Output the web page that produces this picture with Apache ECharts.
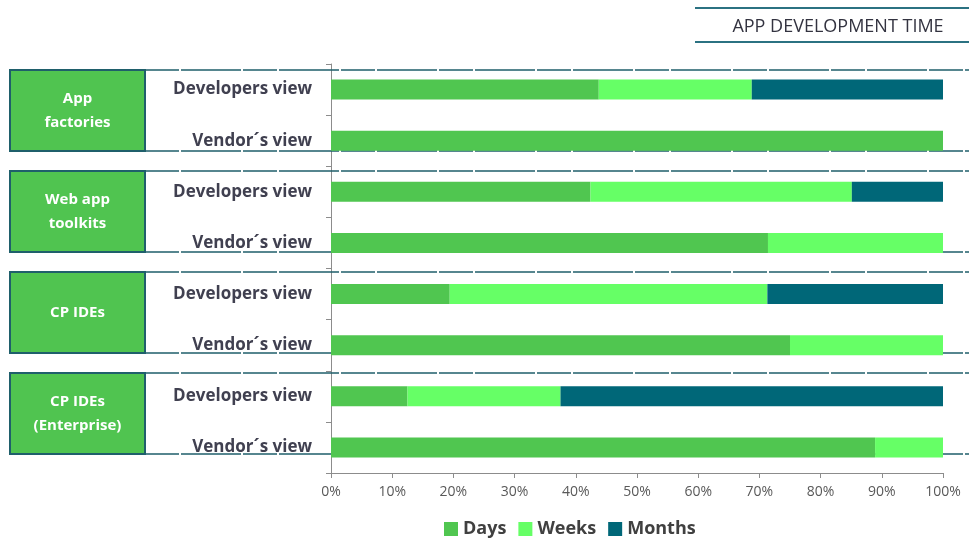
<!DOCTYPE html>
<html>
<head>
<meta charset="utf-8">
<script src="https://cdn.jsdelivr.net/npm/echarts@6/dist/echarts.min.js"></script>
<style>
  html, body { margin: 0; padding: 0; background: #ffffff; }
  #chart { width: 969px; height: 540px; }
</style>
</head>
<body>
<div id="chart"></div>
<script>
// Rows, top to bottom: two views per tool family
const categories = [
  'Developers view', 'Vendor\u00b4s view',
  'Developers view', 'Vendor\u00b4s view',
  'Developers view', 'Vendor\u00b4s view',
  'Developers view', 'Vendor\u00b4s view'
];
const groups = ['App\nfactories', 'Web app\ntoolkits', 'CP IDEs', 'CP IDEs\n(Enterprise)'];

// Share of answers (%) per development time bucket
const days   = [43.75, 100, 42.4, 71.4, 19.4, 75, 12.5, 88.9];
const weeks  = [25,    0,   42.7, 28.6, 51.9, 25, 25,   11.1];
const months = [31.25, 0,   14.9, 0,    28.7, 0,  62.5, 0];

const seriesNames = ['Days', 'Weeks', 'Months'];
const seriesColors = ['#50c650', '#66ff66', '#006778'];
const tickLabels = ['0%', '10%', '20%', '30%', '40%', '50%', '60%', '70%', '80%', '90%', '100%'];

const FONT = '"Open Sans", Lato, sans-serif';
const TEAL = '#1f5f6b';

const chart = echarts.init(document.getElementById('chart'));

// Group panels: green name box on the left, white label strip bounded by dashed rules
const groupTop = [70, 171, 272, 373];
const groupH = 81;
const graphics = [];
groupTop.forEach((y, i) => {
  graphics.push({
    type: 'line', silent: true, z: 1,
    shape: { x1: 145, y1: y, x2: 969, y2: y },
    style: { stroke: TEAL, lineWidth: 1.5, lineDash: [34, 2, 60, 2] }
  });
  graphics.push({
    type: 'line', silent: true, z: 1,
    shape: { x1: 145, y1: y + groupH, x2: 969, y2: y + groupH },
    style: { stroke: TEAL, lineWidth: 1.5, lineDash: [34, 2, 60, 2] }
  });
  graphics.push({
    type: 'rect', silent: true, z: 2,
    shape: { x: 10, y: y, width: 135, height: groupH },
    style: { fill: '#50c450', stroke: TEAL, lineWidth: 2 }
  });
  graphics.push({
    type: 'text', silent: true, z: 3,
    x: 77.5, y: y + groupH / 2,
    style: {
      text: groups[i], fill: '#ffffff', font: 'bold 15px ' + FONT,
      align: 'center', verticalAlign: 'middle', lineHeight: 24
    }
  });
});

// Title block with rules above and below
graphics.push({
  type: 'line', silent: true,
  shape: { x1: 695, y1: 8, x2: 969, y2: 8 },
  style: { stroke: '#2b7282', lineWidth: 2 }
});
graphics.push({
  type: 'line', silent: true,
  shape: { x1: 695, y1: 42, x2: 969, y2: 42 },
  style: { stroke: '#2b7282', lineWidth: 2 }
});
graphics.push({
  type: 'text', silent: true,
  x: 838, y: 27,
  style: {
    text: 'APP DEVELOPMENT TIME', fill: '#333340', font: '18px ' + FONT,
    align: 'center', verticalAlign: 'middle'
  }
});

const dataSets = [days, weeks, months];

chart.setOption({
  animation: false,
  backgroundColor: '#ffffff',
  grid: { left: 331, right: 26, top: 64, bottom: 67, containLabel: false },
  legend: {
    data: seriesNames,
    top: 520,
    left: 444,
    padding: 0,
    itemWidth: 14,
    itemHeight: 14,
    itemGap: 12,
    icon: 'rect',
    textStyle: { fontFamily: FONT, fontWeight: 'bold', fontSize: 18, color: '#404040' }
  },
  xAxis: {
    type: 'value',
    min: 0, max: 100, interval: 10,
    splitLine: { show: false },
    axisLine: { show: true, lineStyle: { color: '#8c8c8c' } },
    axisTick: { show: true, length: 5, lineStyle: { color: '#8c8c8c' } },
    axisLabel: {
      formatter: (v) => tickLabels[Math.round(v / 10)],
      fontFamily: FONT, fontSize: 14, color: '#595959', margin: 12
    }
  },
  yAxis: {
    type: 'category',
    inverse: true,
    data: categories,
    axisLine: { show: true, lineStyle: { color: '#8c8c8c' } },
    axisTick: { show: true, length: 5, lineStyle: { color: '#8c8c8c' } },
    axisLabel: {
      fontFamily: FONT, fontWeight: 'bold', fontSize: 17, color: '#404050', margin: 19
    }
  },
  series: seriesNames.map((name, i) => ({
    name: name,
    type: 'bar',
    stack: 'total',
    barWidth: 20,
    z: 5,
    itemStyle: { color: seriesColors[i] },
    data: dataSets[i]
  })),
  graphic: graphics
});
</script>
</body>
</html>
